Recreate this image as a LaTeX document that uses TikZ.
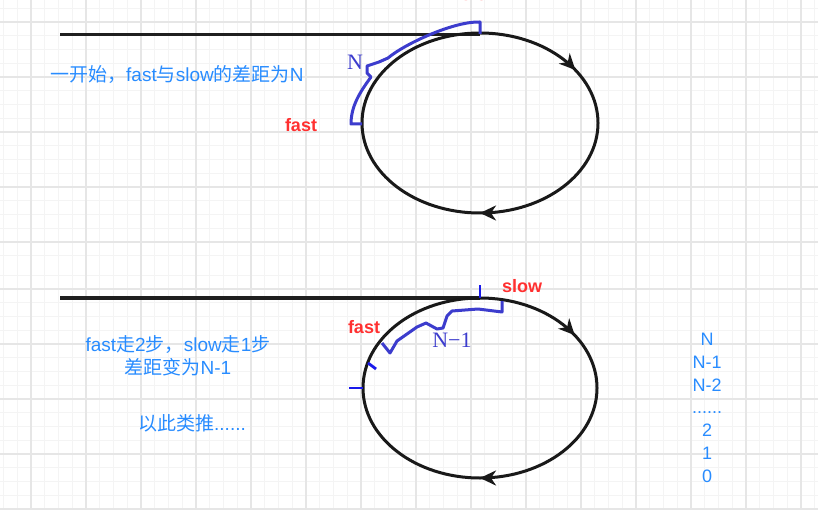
\documentclass[tikz,border=0pt]{standalone}
\usepackage{fontspec}
\setmainfont{Liberation Sans}
\newfontfamily\cjk{Noto Sans CJK SC}
\newfontfamily\serifN{Liberation Serif}
\usetikzlibrary{arrows.meta,decorations.markings}
\definecolor{gridmin}{RGB}{244,244,244}
\definecolor{gridmaj}{RGB}{230,230,230}
\definecolor{noteblue}{RGB}{40,140,255}
\definecolor{gapblue}{RGB}{60,60,205}
\definecolor{tickblue}{RGB}{25,25,235}
\definecolor{ptred}{RGB}{255,48,48}
\begin{document}
\begin{tikzpicture}[x=1pt, y=-1pt,
  loophead/.tip={Stealth[length=16pt,width=15pt,inset=5pt]},
  ring/.style={line width=3pt, draw=black!90, postaction={decorate},
    decoration={markings,
      mark=at position 0.25 with {\arrow{loophead}},
      mark=at position 0.91 with {\arrow{loophead}}}},
  tail/.style={line width=3.8pt, draw=black!88},
  gap/.style={line width=3pt, draw=gapblue, line join=round},
  tick/.style={line width=2.8pt, draw=tickblue},
  pointer/.style={text=ptred, font=\fontsize{18}{20}\selectfont\bfseries, inner sep=0pt},
  note/.style={text=noteblue, font=\fontsize{19}{23}\selectfont, inner sep=0pt, align=center},
  steplist/.style={text=noteblue, font=\fontsize{18}{22.8}\selectfont, inner sep=0pt, align=center},
  gaplabel/.style={text=gapblue, font=\serifN\fontsize{22}{24}\selectfont, inner sep=0pt}]
  \useasboundingbox (0,0) rectangle (818,510);
  \fill[white] (0,0) rectangle (818,510);
  % grid paper
  \foreach \k in {-2,...,57}
    \draw[gridmin, line width=1pt] ({31+13.75*\k},0) -- ({31+13.75*\k},510);
  \foreach \k in {-1,...,17}
    \draw[gridmin, line width=1pt] (0,{22+13.75*\k}) -- (818,{22+13.75*\k});
  \foreach \k in {-1,...,16}
    \draw[gridmin, line width=1pt] (0,{289+13.75*\k}) -- (818,{289+13.75*\k});
  \foreach \m in {0,...,14}
    \draw[gridmaj, line width=1.6pt] ({31+55*\m},0) -- ({31+55*\m},510);
  \foreach \m in {0,...,4}
    \draw[gridmaj, line width=1.6pt] (0,{22+55*\m}) -- (818,{22+55*\m});
  \foreach \m in {0,...,4}
    \draw[gridmaj, line width=1.6pt] (0,{289+55*\m}) -- (818,{289+55*\m});

  % first state
  \coordinate (entryA) at (60,34.5);
  \coordinate (joinA) at (480,34.5);
  \draw[tail] (entryA) -- (joinA);
  \draw[ring] (480,123) ellipse [x radius=118, y radius=90];
  \draw[gap] (480,34) -- (480,22) .. controls (455,21) and (406,43) .. (388,58)
    -- (379,62) -- (367,66) -- (367,73) -- (371,77)
    .. controls (360,92) and (351,106) .. (351,124) -- (362,124);
  \node[pointer] (slowA) at (481,-6) {slow};
  \node[pointer] (fastA) at (301,125) {fast};
  \node[gaplabel] (gapA) at (355,62.5) {N};
  \node[note, anchor=base west] (noteA) at (50,82)
    {{\cjk 一开始，}fast{\cjk 与}slow{\cjk 的差距为}N};

  % after one move
  \coordinate (entryB) at (60,298);
  \coordinate (joinB) at (480,298);
  \draw[tail] (entryB) -- (joinB);
  \draw[ring] (480,388) ellipse [x radius=117, y radius=90];
  \draw[gap] (502,301) -- (502,312) -- (478,309) -- (452,311) -- (447,316)
    -- (443,328) -- (437,329) -- (426,323) -- (417,327) -- (397,341)
    -- (390,353) -- (382,343);
  \draw[tick] (480,285) -- (480,298);
  \draw[tick] (368,363) -- (376,369);
  \draw[tick] (349,388) -- (363,388);
  \node[pointer] (slowB) at (522,286) {slow};
  \node[pointer] (fastB) at (364,327) {fast};
  \node[gaplabel] (gapB) at (452,340) {N−1};
  \node[note] (noteB) at (178,355.5)
    {fast{\cjk 走}2{\cjk 步，}slow{\cjk 走}1{\cjk 步}\\{\cjk 差距变为}N-1};
  \node[note, anchor=base] (noteC) at (192,430) {{\cjk 以此类推}......};
  \node[steplist, anchor=north] (steps) at (707,333)
    {N\\N-1\\N-2\\......\\2\\1\\0};
\end{tikzpicture}
\end{document}
